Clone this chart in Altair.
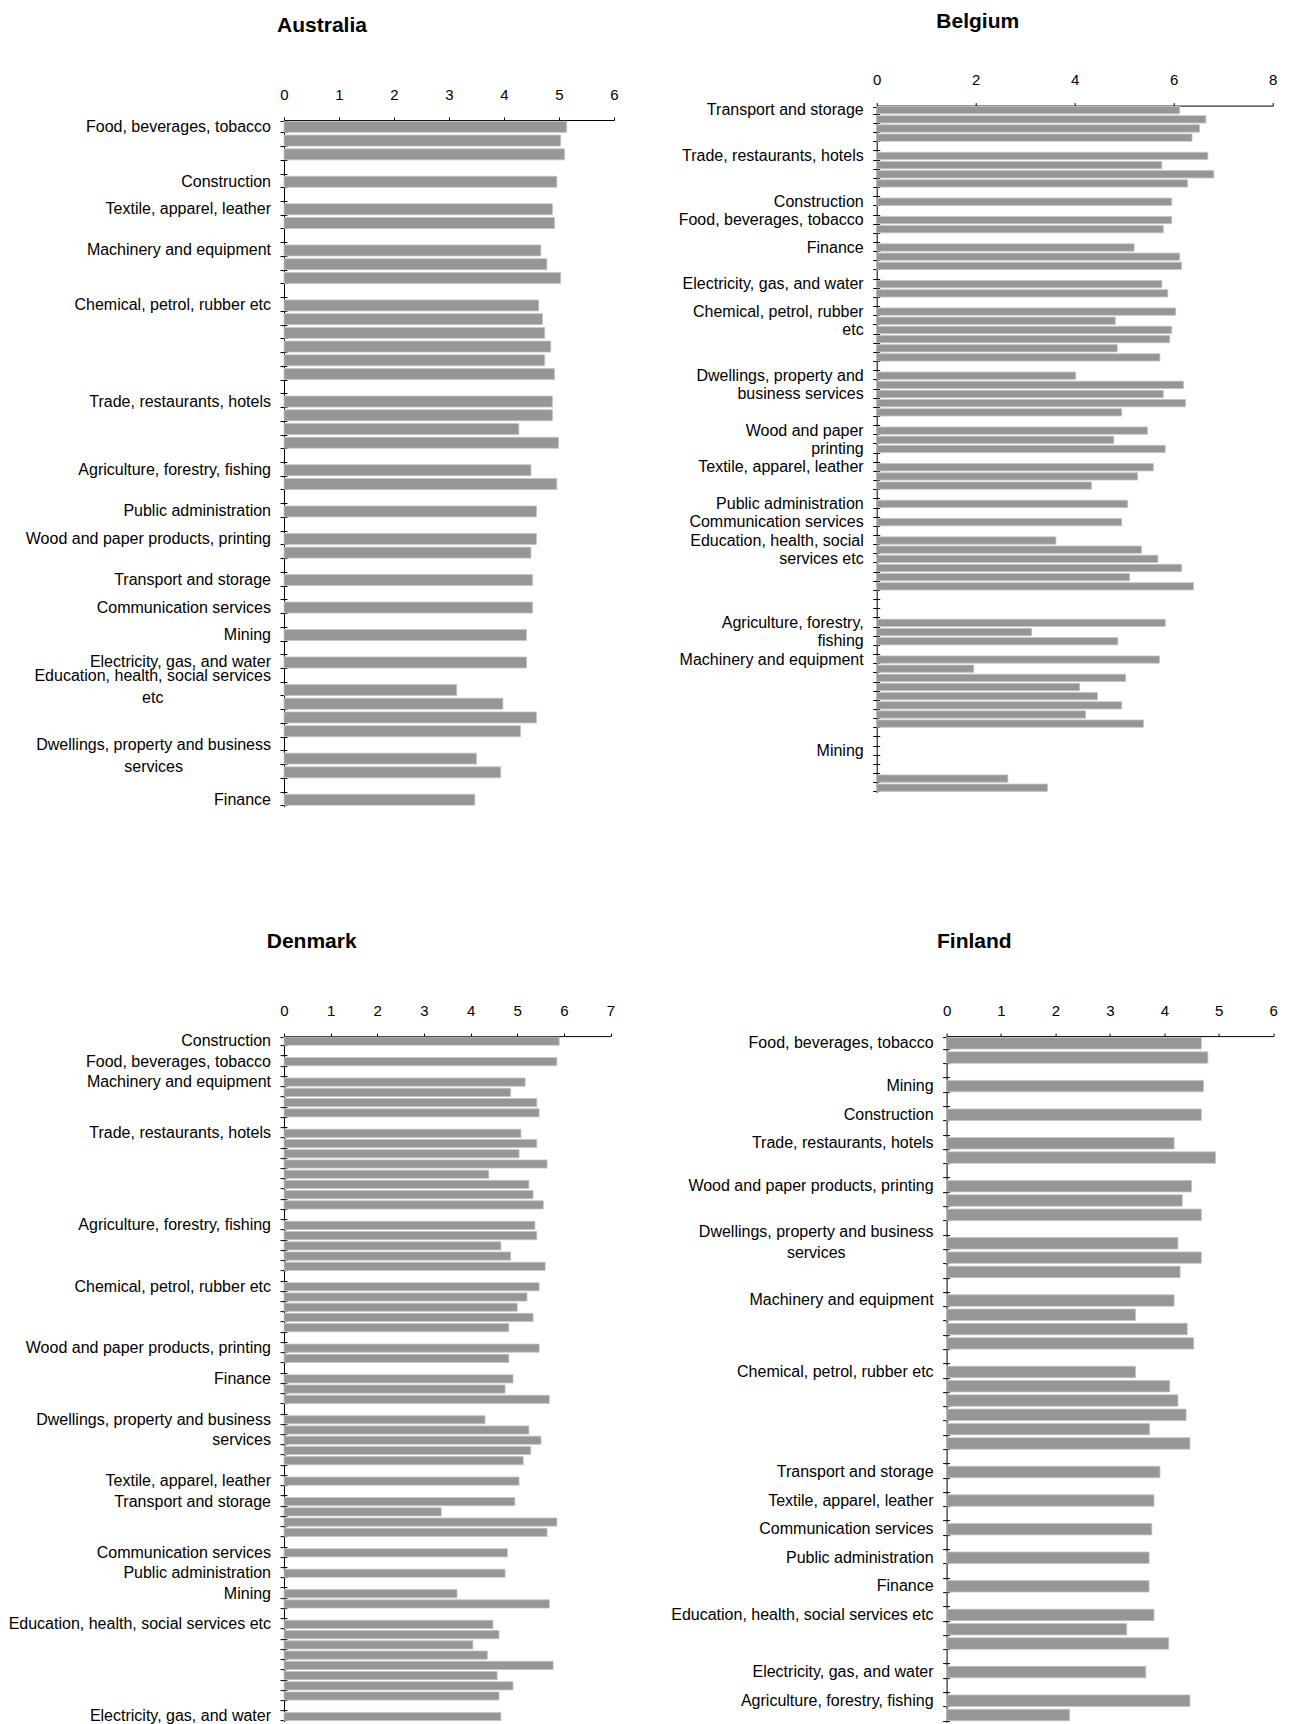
import altair as alt
import pandas as pd

FONT = "Liberation Sans, Arial, sans-serif"

# ---------------- Australia ----------------
au_rows_total = 50
au_bar_rows = [0, 1, 2, 4, 6, 7, 9, 10, 11, 13, 14, 15, 16, 17, 18, 20, 21, 22, 23, 25, 26,
               28, 30, 31, 33, 35, 37, 39, 41, 42, 43, 44, 46, 47, 49]
au_values = [5.14, 5.03, 5.10, 4.96, 4.88, 4.92, 4.67, 4.78, 5.03, 4.63, 4.70, 4.74, 4.85, 4.74,
             4.92, 4.88, 4.88, 4.27, 4.99, 4.49, 4.96, 4.59, 4.59, 4.49, 4.52, 4.52, 4.41, 4.41,
             3.14, 3.98, 4.59, 4.30, 3.50, 3.94, 3.47]
au_label_rows = [0, 4, 6, 9, 13, 20, 25, 28, 30, 33, 35, 37, 39, 40, 45, 49]
au_labels = ["Food, beverages, tobacco", "Construction", "Textile, apparel, leather",
             "Machinery and equipment", "Chemical, petrol, rubber etc", "Trade, restaurants, hotels",
             "Agriculture, forestry, fishing", "Public administration",
             "Wood and paper products, printing", "Transport and storage", "Communication services",
             "Mining", "Electricity, gas, and water", "Education, health, social services\netc",
             "Dwellings, property and business\nservices", "Finance"]
au_centered = [False] * 13 + [True, True, False]

# ---------------- Belgium ----------------
be_rows_total = 75
be_bar_rows = [0, 1, 2, 3, 5, 6, 7, 8, 10, 12, 13, 15, 16, 17, 19, 20, 22, 23, 24, 25, 26, 27,
               29, 30, 31, 32, 33, 35, 36, 37, 39, 40, 41, 43, 45, 47, 48, 49, 50, 51, 52,
               56, 57, 58, 60, 61, 62, 63, 64, 65, 66, 67, 73, 74]
be_values = [6.12, 6.65, 6.52, 6.37, 6.69, 5.76, 6.81, 6.28, 5.96, 5.96, 5.79, 5.20, 6.12, 6.16,
             5.76, 5.88, 6.04, 4.82, 5.96, 5.92, 4.86, 5.72, 4.02, 6.20, 5.79, 6.24, 4.95,
             5.47, 4.79, 5.83, 5.59, 5.27, 4.34, 5.07, 4.95, 3.62, 5.35, 5.68, 6.16, 5.11, 6.40,
             5.83, 3.13, 4.87, 5.71, 1.96, 5.03, 4.10, 4.46, 4.95, 4.22, 5.39, 2.65, 3.45]
be_label_rows = [0, 5, 10, 12, 15, 19, 22, 29, 35, 39, 43, 45, 47, 56, 60, 70]
be_labels = ["Transport and storage", "Trade, restaurants, hotels", "Construction",
             "Food, beverages, tobacco", "Finance", "Electricity, gas, and water",
             "Chemical, petrol, rubber\netc", "Dwellings, property and\nbusiness services",
             "Wood and paper\nprinting", "Textile, apparel, leather", "Public administration",
             "Communication services", "Education, health, social\nservices etc",
             "Agriculture, forestry,\nfishing", "Machinery and equipment", "Mining"]
be_centered = [False] * 16

# ---------------- Denmark ----------------
dk_rows_total = 67
dk_bar_rows = [0, 2, 4, 5, 6, 7, 9, 10, 11, 12, 13, 14, 15, 16, 18, 19, 20, 21, 22, 24, 25, 26,
               27, 28, 30, 31, 33, 34, 35, 37, 38, 39, 40, 41, 43, 45, 46, 47, 48, 50, 52, 54, 55,
               57, 58, 59, 60, 61, 62, 63, 64, 66]
dk_values = [5.90, 5.85, 5.17, 4.86, 5.42, 5.47, 5.08, 5.42, 5.04, 5.64, 4.39, 5.25, 5.34, 5.56,
             5.38, 5.42, 4.65, 4.86, 5.60, 5.47, 5.21, 5.00, 5.34, 4.82, 5.47, 4.82, 4.91, 4.74,
             5.69, 4.31, 5.25, 5.51, 5.29, 5.13, 5.04, 4.95, 3.37, 5.85, 5.64, 4.79, 4.74, 3.71,
             5.69, 4.48, 4.61, 4.05, 4.36, 5.77, 4.57, 4.91, 4.61, 4.65]
dk_label_rows = [0, 2, 4, 9, 18, 24, 30, 33, 37, 43, 45, 50, 52, 54, 57, 66]
dk_labels = ["Construction", "Food, beverages, tobacco", "Machinery and equipment",
             "Trade, restaurants, hotels", "Agriculture, forestry, fishing",
             "Chemical, petrol, rubber etc", "Wood and paper products, printing", "Finance",
             "Dwellings, property and business\nservices", "Textile, apparel, leather",
             "Transport and storage", "Communication services", "Public administration", "Mining",
             "Education, health, social services etc", "Electricity, gas, and water"]
dk_centered = [False] * 16

# ---------------- Finland ----------------
fi_rows_total = 48
fi_bar_rows = [0, 1, 3, 5, 7, 8, 10, 11, 12, 14, 15, 16, 18, 19, 20, 21, 23, 24, 25, 26, 27, 28,
               30, 32, 34, 36, 38, 40, 41, 42, 44, 46, 47]
fi_values = [4.68, 4.80, 4.72, 4.68, 4.18, 4.94, 4.50, 4.33, 4.68, 4.25, 4.68, 4.29, 4.18, 3.47,
             4.42, 4.54, 3.47, 4.10, 4.25, 4.40, 3.73, 4.47, 3.92, 3.81, 3.77, 3.72, 3.72, 3.81,
             3.31, 4.08, 3.66, 4.47, 2.26]
fi_label_rows = [0, 3, 5, 7, 10, 13, 18, 23, 30, 32, 34, 36, 38, 40, 44, 46]
fi_labels = ["Food, beverages, tobacco", "Mining", "Construction", "Trade, restaurants, hotels",
             "Wood and paper products, printing", "Dwellings, property and business\nservices",
             "Machinery and equipment", "Chemical, petrol, rubber etc", "Transport and storage",
             "Textile, apparel, leather", "Communication services", "Public administration",
             "Finance", "Education, health, social services etc", "Electricity, gas, and water",
             "Agriculture, forestry, fishing"]
fi_centered = [False] * 5 + [True] + [False] * 10

# Arial / Liberation Sans advance widths (per 1000 em), for centring wrapped labels
_W = {" ": 278, ",": 278, ".": 278,
      "a": 556, "b": 556, "c": 500, "d": 556, "e": 556, "f": 278, "g": 556, "h": 556, "i": 222,
      "j": 222, "k": 500, "l": 222, "m": 833, "n": 556, "o": 556, "p": 556, "q": 556, "r": 333,
      "s": 500, "t": 278, "u": 556, "v": 500, "w": 722, "x": 500, "y": 500, "z": 500,
      "A": 667, "B": 667, "C": 722, "D": 722, "E": 667, "F": 611, "M": 833, "P": 667, "T": 611,
      "W": 944}
LABEL_SIZE = 16
GAP = 13


def text_width(s, size):
    return sum(_W.get(ch, 556) for ch in s) * size / 1000.0


def panel(title, n_rows, bar_rows, values, label_rows, labels, centered, xmax, xstep,
          width, height, line_h, shift=0.0, title_offset=51.4, wrap_dy=0):
    bars_df = pd.DataFrame({"row": bar_rows, "value": values})
    scale_kw = dict(domain=list(range(n_rows)), paddingInner=0.2, paddingOuter=0.1)
    if shift:
        scale_kw["range"] = [-shift, height - shift]
    yscale = alt.Scale(**scale_kw)
    # left axis: domain line and outward ticks at every row boundary
    y_axis = alt.Axis(title=None, labels=False, tickBand="extent", tickSize=4, grid=False,
                      domainColor="black", tickColor="black", domainWidth=1, tickWidth=1)
    # second set of ticks on the same line, pointing into the plot (crossing ticks)
    y_axis_in = alt.Axis(orient="right", offset=-width, title=None, labels=False, domain=False,
                         tickBand="extent", tickSize=3, grid=False, tickColor="black",
                         tickWidth=1)
    x_axis = alt.Axis(orient="top", values=list(range(0, xmax + 1, xstep)), title=None,
                      grid=False, tickSize=3, labelPadding=15, labelFontSize=15,
                      labelFont=FONT, labelColor="black", domainColor="black",
                      tickColor="black", format="d", offset=shift, labelFlush=False)

    bars = alt.Chart(bars_df).mark_bar(color="#969696", stroke="#c4c4c4", strokeWidth=0.8).encode(
        x=alt.X("value:Q", scale=alt.Scale(domain=[0, xmax], nice=False), axis=x_axis),
        y=alt.Y("row:O", scale=yscale, axis=y_axis),
    )
    layers = [bars]

    right_df = pd.DataFrame({"row": [r for r, c in zip(label_rows, centered) if not c],
                             "label": [t for t, c in zip(labels, centered) if not c]})
    layers.append(
        alt.Chart(right_df).mark_text(align="right", baseline="middle", x=-GAP,
                                      fontSize=LABEL_SIZE, font=FONT, color="black",
                                      lineBreak="\n", lineHeight=line_h)
        .encode(y=alt.Y("row:O", scale=yscale, axis=y_axis_in), text="label:N")
    )
    for r, t, c in zip(label_rows, labels, centered):
        if not c:
            continue
        w = max(text_width(line, LABEL_SIZE) for line in t.split("\n"))
        one = pd.DataFrame({"row": [r], "label": [t]})
        layers.append(
            alt.Chart(one).mark_text(align="center", baseline="middle", x=-GAP - w / 2,
                                     dy=wrap_dy, fontSize=LABEL_SIZE, font=FONT, color="black",
                                     lineBreak="\n", lineHeight=line_h)
            .encode(y=alt.Y("row:O", scale=yscale, axis=None), text="label:N")
        )
    return alt.layer(*layers).resolve_axis(y="independent").properties(
        width=width, height=height,
        title=alt.Title(title, anchor="middle", frame="bounds", offset=title_offset, fontSize=21,
                        font=FONT, fontWeight="bold", color="black"),
    )


australia = panel("Australia", au_rows_total, au_bar_rows, au_values, au_label_rows, au_labels,
                  au_centered, 6, 1, 330, 686.7, 21.7)
belgium = panel("Belgium", be_rows_total, be_bar_rows, be_values, be_label_rows, be_labels,
                be_centered, 8, 2, 396, 686.7, 18, shift=14.4, title_offset=40.4)
denmark = panel("Denmark", dk_rows_total, dk_bar_rows, dk_values, dk_label_rows, dk_labels,
                dk_centered, 7, 1, 326.5, 685.5, 20)
finland = panel("Finland", fi_rows_total, fi_bar_rows, fi_values, fi_label_rows, fi_labels,
                fi_centered, 6, 1, 326.6, 686, 20.7, wrap_dy=3)

top = alt.hconcat(australia, belgium, spacing=262.7, bounds="flush")
bottom = alt.hconcat(denmark, finland, spacing=335.6, bounds="flush")
# nested concat rows count as zero height in a flush layout, so the spacing spans
# the top row's plot height plus the gap between the rows
chart = alt.vconcat(top, bottom, spacing=686.7 + 229.4, bounds="flush").properties(
    padding={"left": 0, "top": 3, "right": 5, "bottom": 0}
).configure_view(stroke=None).configure_axis(labelFont=FONT)

chart.save("out.html", embed_options={"renderer": "svg", "actions": False})
